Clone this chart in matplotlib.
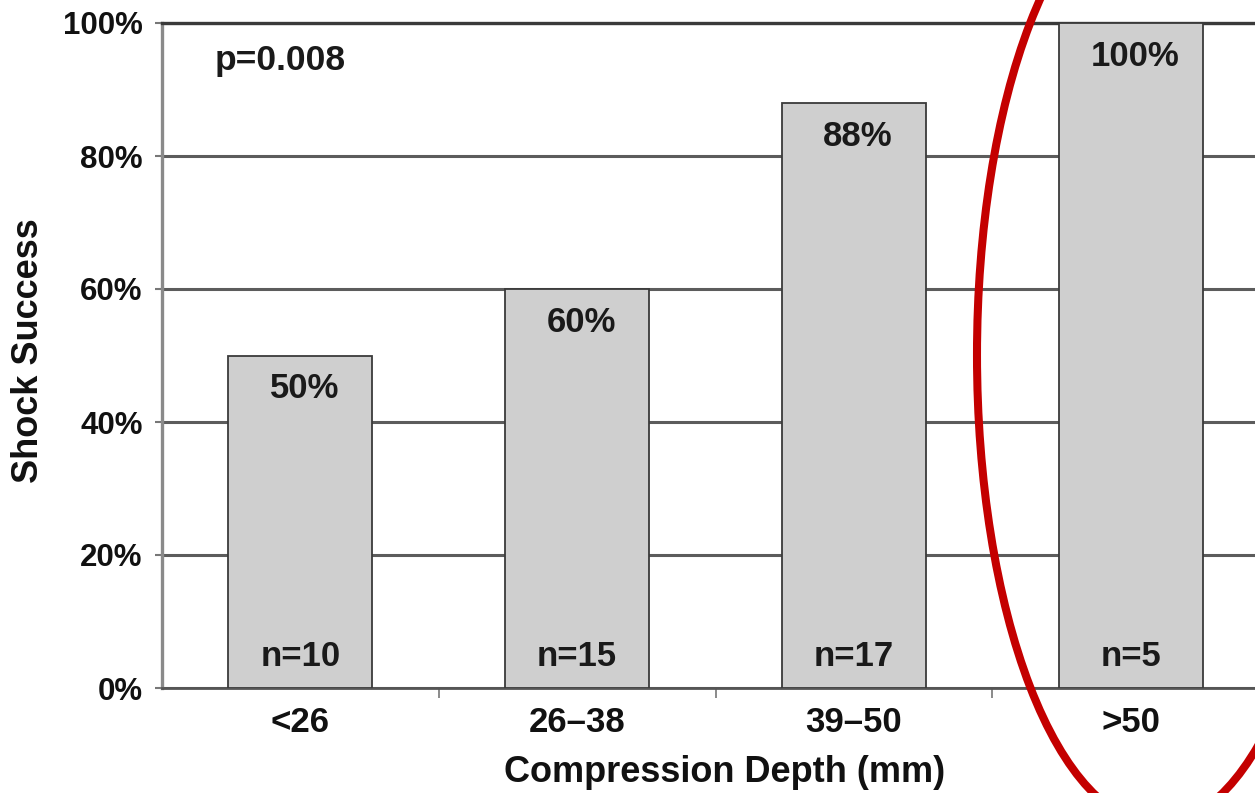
import matplotlib
matplotlib.use("Agg")
import matplotlib.pyplot as plt
from matplotlib.patches import Ellipse
from matplotlib.ticker import FixedLocator, PercentFormatter

plt.rcParams["font.family"] = ["Liberation Sans", "DejaVu Sans"]

# Shock success by chest compression depth
categories = ["<26", "26\u201338", "39\u201350", ">50"]
success = [0.50, 0.60, 0.88, 1.00]
counts = [10, 15, 17, 5]
p_text = "p=0.008"

W, H, DPI = 1255, 793, 100
fig = plt.figure(figsize=(W / DPI, H / DPI), dpi=DPI)
fig.patch.set_facecolor("white")

# plot area in pixels: x 162..1269 (runs past the right edge), y 23..688
ax = fig.add_axes([162 / W, 1 - 688 / H, (1269 - 162) / W, (688 - 23) / H])

x = list(range(len(categories)))
bars = ax.bar(x, success, width=0.52, color="#cfcfcf", edgecolor="#3a3a3a",
              linewidth=1.3, zorder=3)

ax.set_xlim(-0.5, len(categories) - 0.5)
ax.set_ylim(0, 1)

# value labels near the top of each bar, sample sizes near the bottom
for xi, v, n in zip(x, success, counts):
    ax.annotate(f"{v * 100:.0f}%", xy=(xi, v), xytext=(3, -24),
                textcoords="offset points", ha="center", va="center",
                fontsize=25, fontweight="bold", color="#1a1a1a", zorder=4)
    ax.annotate(f"n={n}", xy=(xi, 0), xytext=(0, 22.5),
                textcoords="offset points", ha="center", va="center",
                fontsize=25, fontweight="bold", color="#1a1a1a", zorder=4)

ax.text(0.048, 0.944, p_text, transform=ax.transAxes, ha="left", va="center",
        fontsize=25.5, fontweight="bold", color="#1a1a1a")

# grid
ax.yaxis.set_major_locator(FixedLocator([0, 0.2, 0.4, 0.6, 0.8, 1.0]))
ax.yaxis.set_major_formatter(PercentFormatter(1.0, decimals=0))
ax.grid(axis="y", color="#5c5c5c", linewidth=2.2, zorder=0)
ax.set_axisbelow(True)

# spines
ax.spines["right"].set_visible(False)
ax.spines["top"].set_color("#3a3a3a")
ax.spines["top"].set_linewidth(2.4)
ax.spines["left"].set_color("#8a8a8a")
ax.spines["left"].set_linewidth(2.4)
ax.spines["bottom"].set_color("#555555")
ax.spines["bottom"].set_linewidth(2.0)

# ticks
ax.set_xticks(x)
ax.set_xticklabels(categories, fontsize=25, fontweight="bold", color="#111111")
ax.set_xticks([i + 0.5 for i in x[:-1]], minor=True)
ax.tick_params(axis="x", which="major", length=0, pad=13)
ax.tick_params(axis="x", which="minor", length=7, width=1.2, color="#777777",
               direction="out")
ax.tick_params(axis="y", length=5, width=1.5, color="#777777", pad=9)
for lbl in ax.get_yticklabels():
    lbl.set_fontsize(22.5)
    lbl.set_fontweight("bold")
    lbl.set_color("#111111")

fig.text(29 / W, 1 - 351 / H, "Shock Success", rotation=90, ha="center",
         va="center", fontsize=26, fontweight="bold", color="#111111")
fig.text(725 / W, 1 - 773 / H, "Compression Depth (mm)", ha="center",
         va="center", fontsize=26, fontweight="bold", color="#111111")

# red ring around the deepest-compression group (inches, so it stays elliptic)
ring = Ellipse((1158 / DPI, (H - 355) / DPI), 362 / DPI, 938 / DPI,
               fill=False, edgecolor="#c40000", linewidth=5.8,
               transform=fig.dpi_scale_trans, zorder=10)
fig.add_artist(ring)

fig.savefig("out.png", dpi=DPI, facecolor="white")
